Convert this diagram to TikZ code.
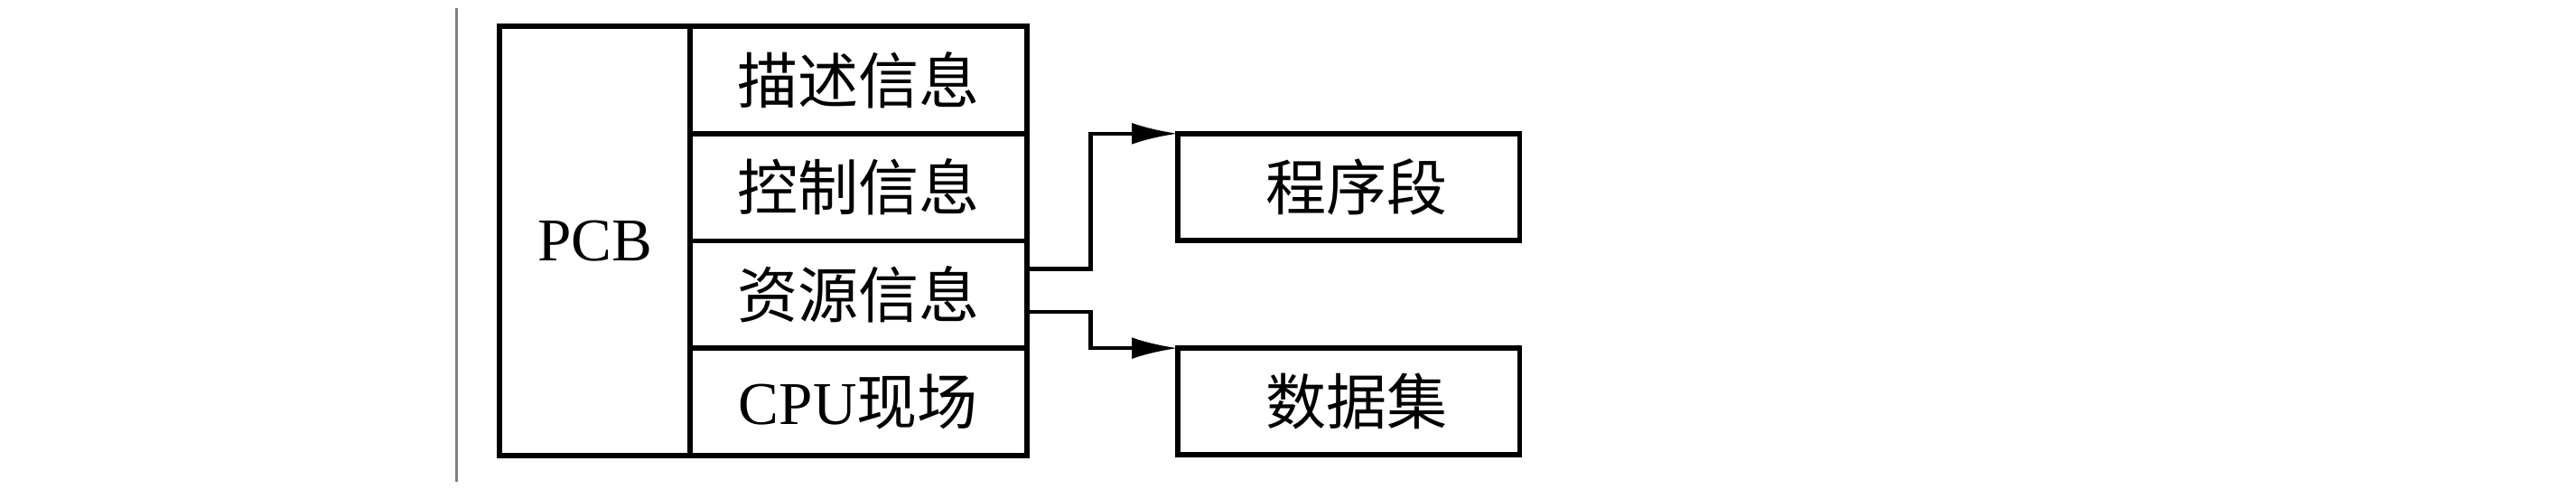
\documentclass[tikz,border=0pt]{standalone}
\usepackage{fontspec}
\setmainfont{Liberation Serif}
\newfontfamily\cjk{Noto Sans CJK SC}
\usetikzlibrary{positioning,arrows.meta}

\begin{document}
\begin{tikzpicture}[
    x=0.1mm, y=-0.1mm,
    font=\fontsize{10.5pt}{12pt}\selectfont,
    cell/.style={draw,line width=0.9pt,outer sep=0pt,inner sep=0pt,minimum width=20.5mm,minimum height=6.525mm},
    pcbbox/.style={draw,line width=0.9pt,outer sep=0pt,inner sep=0pt,minimum width=11.6mm,minimum height=26.1mm},
    seg/.style={draw,line width=0.9pt,outer sep=0pt,inner sep=0pt,minimum width=20.8mm,minimum height=6.5mm},
    conn/.style={line width=0.7pt,-{Latex[length=2.8mm,width=1.3mm]}},
    margin/.style={line width=0.5pt,gray}
]
\useasboundingbox (0,0) rectangle (1568,303);

% === margin line ===
\draw[margin] (278,5) -- (278,293);

% === PCB ===
\node[pcbbox] (pcb) at (362,146.5) {PCB};

% === PCB fields ===
\node[cell,anchor=north west] (d1) at (pcb.north east) {\cjk 描述信息};
\node[cell,below=0pt of d1] (d2) {\cjk 控制信息};
\node[cell,below=0pt of d2] (d3) {\cjk 资源信息};
\node[cell,below=0pt of d3] (d4) {CPU\cjk 现场};

% === program and data ===
\node[seg,anchor=north west] (prog) at ([xshift=9.2mm]d2.north east) {\hspace{1mm}\cjk 程序段};
\node[seg,anchor=north west] (data) at ([xshift=9.2mm]d4.north east) {\hspace{1mm}\cjk 数据集};

% === links ===
\draw[conn] ([yshift=1.55mm]d3.east) -- ++(3.9mm,0) |- (prog.north west);
\draw[conn] ([yshift=-1.05mm]d3.east) -- ++(3.9mm,0) |- (data.north west);

\end{tikzpicture}
\end{document}
